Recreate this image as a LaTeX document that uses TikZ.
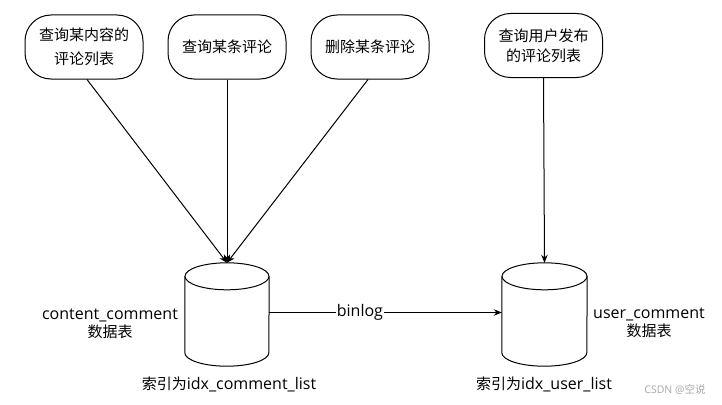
\documentclass[tikz,border=0pt]{standalone}
\usepackage{fontspec}
\setmainfont{Open Sans}
\newfontfamily\cjk{Noto Sans CJK SC}
\usetikzlibrary{arrows.meta}
\tikzset{
  qbox/.style={draw=black, line width=1pt, rounded corners=26pt, minimum width=118pt, minimum height=64pt, align=center, inner sep=2pt, font=\cjk\fontsize{15}{24}\selectfont},
  dbbox/.style={draw=none, minimum width=84pt, minimum height=103pt, inner sep=0pt},
  cyl/.style={draw=black, line width=1pt, fill=white},
  conn/.style={draw=black, line width=1pt, -{Stealth[length=8pt,width=6.5pt]}},
  lbl/.style={align=center, inner sep=0pt, font=\fontsize{16}{18}\selectfont},
  wm/.style={text=black!35, inner sep=0pt, font=\fontsize{10.5}{12}\selectfont}
}
\begin{document}
\begin{tikzpicture}[x=1pt,y=1pt]
\useasboundingbox (0,0) rectangle (722,-404);
% query boxes
\node[qbox] (b1) at (84,-47) {查询某内容的\\评论列表};
\node[qbox] (b2) at (227,-47) {查询某条评论};
\node[qbox] (b3) at (370,-47) {删除某条评论};
\node[qbox, font=\cjk\fontsize{15}{20}\selectfont] (b4) at (543.5,-45.5) {查询用户发布\\的评论列表};
% databases
\node[dbbox] (db1) at (227,-314.5) {};
\node[dbbox, minimum width=85pt] (db2) at (544.5,-314.5) {};
\foreach \d/\rx in {db1/42pt, db2/42.5pt}{
  \draw[cyl] ([yshift=-13.5pt]\d.north west) -- ([yshift=13.5pt]\d.south west)
     arc[start angle=180, end angle=360, x radius=\rx, y radius=13.5pt]
     -- ([yshift=-13.5pt]\d.north east);
  \draw[cyl] ([yshift=-13.5pt]\d.north) ellipse [x radius=\rx, y radius=13.5pt];
}
% connectors
\draw[conn] ([xshift=3pt]b1.south) -- (db1.north);
\draw[conn] (b2.south) -- (db1.north);
\draw[conn] ([xshift=-2pt]b3.south) -- (db1.north);
\draw[conn] (b4.south) -- (db2.north);
\draw[conn] ([yshift=2pt]db1.east) -- node[pos=0.39, fill=white, inner sep=1pt, font=\fontsize{16}{18}\selectfont] (bl) {binlog} ([yshift=2pt]db2.west);
% labels
\node[lbl] (l1) at (110,-324) {content\_comment\\{\cjk\fontsize{15}{18}\selectfont 数据表}};
\node[lbl] (l2) at (649,-323) {user\_comment\\{\cjk\fontsize{15}{18}\selectfont 数据表}};
\node[lbl] (i1) at (229,-384) {{\cjk\fontsize{15}{18}\selectfont 索引为}idx\_comment\_list};
\node[lbl] (i2) at (544,-384) {{\cjk\fontsize{15}{18}\selectfont 索引为}idx\_user\_list};
\node[wm] (w) at (675,-390) {CSDN @{\cjk 空说}};
\end{tikzpicture}
\end{document}
